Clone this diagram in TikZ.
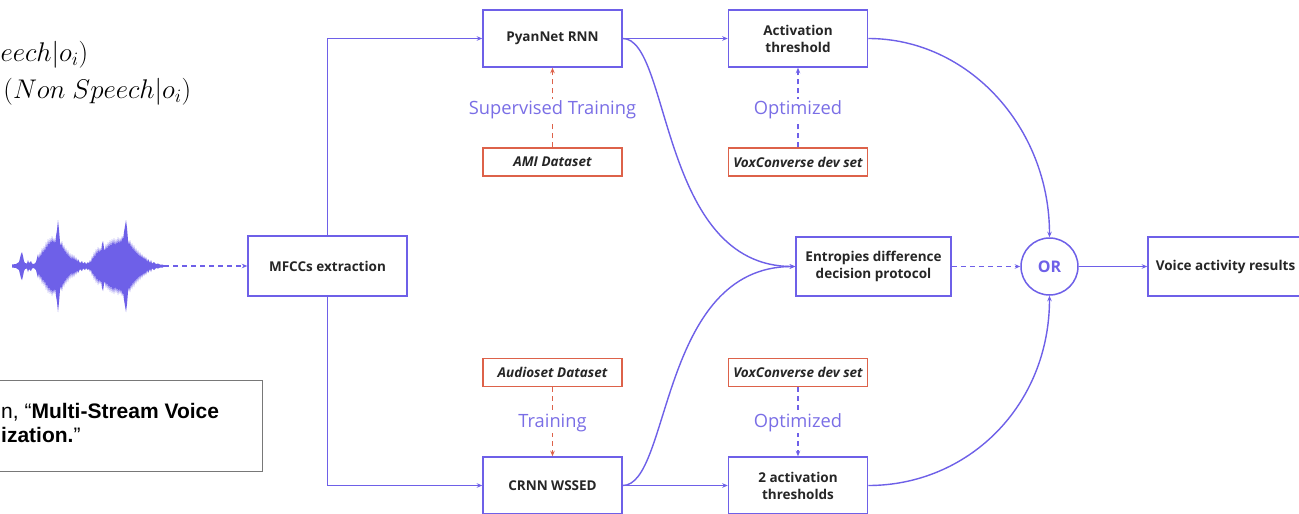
\RequirePackage{fix-cm}
\documentclass[tikz,border=0pt]{standalone}
\usepackage{fontspec}
\setmainfont{Open Sans}
\newfontfamily\citefont{Liberation Sans}
\usetikzlibrary{arrows.meta}
\definecolor{vio}{RGB}{110,96,232}
\definecolor{violabel}{RGB}{122,110,230}
\definecolor{brick}{RGB}{221,98,74}
\definecolor{citeframe}{RGB}{120,120,120}
% half of the speech waveform: (x, half amplitude) measured from the centre line
\newcommand{\wavehalfpath}{(12,0) -- plot coordinates {
 (12,1.5) (16,2) (19,4) (20,8) (21,12) (22,14) (23,10) (24,5) (25,3) (27,2.5) (28,6) (29,3)
 (31,5) (32,2.5) (34,2) (36,4) (37,8) (38,12) (39,7) (40,14) (41,9) (42,18) (43,12)
 (44,20) (45,14) (46,24) (47,17) (48,27) (49,20) (50,28) (51,22) (52,30) (53,23) (54,28)
 (55,22) (56,30) (57,36) (58,46) (59,36) (60,24) (61,20) (62,25) (63,16) (64,21) (65,13)
 (66,18) (67,10) (68,16) (69,8) (70,13) (71,6) (72,12) (73,6) (74,11) (75,5) (76,9)
 (77,4) (78,7) (80,3) (82,5) (83,2.5) (85,4) (86,2) (88,4) (89,2.5) (90,6) (91,3) (92,10)
 (93,6) (94,14) (95,8) (96,17) (97,11) (98,19) (99,13) (100,18) (101,14) (102,22)
 (103,25) (104,18) (105,15) (106,22) (107,16) (108,24) (109,18) (110,26) (111,19)
 (112,27) (113,21) (114,28) (115,20) (116,27) (117,21) (118,29) (119,22) (120,28)
 (121,23) (122,30) (123,26) (124,34) (125,40) (126,46) (127,38) (128,26) (129,21)
 (130,26) (131,18) (132,23) (133,15) (134,21) (135,13) (136,18) (137,11) (138,16)
 (139,9) (140,14) (141,8) (142,12) (143,7) (144,10) (145,6) (146,9) (147,4) (148,7)
 (150,3) (151,6) (152,2.5) (154,4) (156,2) (158,2.5) (160,1.5) (163,1.5)} -- (163,0) -- cycle}
\begin{document}
\begin{tikzpicture}[x=1pt,y=-1pt,
  stepbox/.style={draw=vio, line width=1.5pt, minimum width=139pt, minimum height=57pt,
    inner sep=2pt, align=center, text=black!85, font=\fontsize{13.5}{17}\selectfont\bfseries},
  databox/.style={draw=brick, line width=1.5pt, minimum width=139pt, minimum height=28pt,
    inner sep=1pt, text=black!85, font=\fontsize{13.5}{16}\selectfont\bfseries\itshape},
  link/.style={draw=vio, line width=1.4pt, -{Stealth[length=5.5pt,width=4.5pt]}},
  dashlink/.style={link, dash pattern=on 5pt off 4pt},
  trainlink/.style={draw=brick, line width=1.4pt, dash pattern=on 5pt off 4pt,
    -{Stealth[length=5.5pt,width=4.5pt]}},
  steplabel/.style={text=violabel, fill=white, inner sep=1pt, font=\fontsize{18.3}{21}\selectfont},
  eqtext/.style={anchor=base east, inner sep=0, font=\fontsize{27}{31}\selectfont},
  citetext/.style={anchor=base west, inner sep=0, font=\citefont\fontsize{21}{24}\selectfont},
]
\useasboundingbox (0,0) rectangle (1299,514);
\clip (0,0) rectangle (1299,514);
\fill[white] (0,0) rectangle (1299,514);

% probability expressions
\node[eqtext] (eqspeech) at (88.5,61) {$eech|o_i)$};
\node[eqtext] (eqnonspeech) at (191.5,98) {$(Non\ Speech|o_i)$};

% audio waveform
\draw[vio, line width=1.5pt] (12,266) -- (164,266);
\begin{scope}[shift={(0,266)}]
  \fill[vio] \wavehalfpath;
  \fill[vio, yscale=-1] \wavehalfpath;
\end{scope}
\coordinate (waveend) at (164,266);

% citation box
\node[draw=citeframe, line width=1pt, minimum width=300pt, minimum height=91pt, inner sep=0] (cite) at (112,425.5) {};
\node[citetext] (citeA) at (1,418) {n, “\textbf{Multi-Stream Voice}};
\node[citetext] (citeB) at (1,442) {\textbf{ization.}”};

% processing blocks
\node[stepbox, minimum width=159pt, minimum height=60pt] (mfcc) at (327.5,266) {MFCCs extraction};
\node[stepbox] (pyan) at (552.5,38.5) {PyanNet RNN};
\node[stepbox] (act) at (798,38.5) {Activation\\threshold};
\node[stepbox] (crnn) at (552.5,485.5) {CRNN WSSED};
\node[stepbox] (act2) at (798,485.5) {2 activation\\thresholds};
\node[stepbox, minimum width=155pt, minimum height=59pt] (ent) at (873.5,266.5) {Entropies difference\\decision protocol};
\node[stepbox, circle, minimum size=57pt, inner sep=0, text=vio, font=\fontsize{16}{18}\selectfont\bfseries] (or) at (1049.5,266.5) {OR};
\node[stepbox, minimum width=155pt, minimum height=59pt] (res) at (1225.5,266.5) {Voice activity results};

% data sources
\node[databox] (ami) at (552.5,162) {AMI Dataset};
\node[databox] (vox1) at (798,162) {VoxConverse dev set};
\node[databox] (audio) at (552.5,372.5) {Audioset Dataset};
\node[databox] (vox2) at (798,372.5) {VoxConverse dev set};

% connectors
\draw[dashlink] (waveend) -- (mfcc.west);
\draw[link] (mfcc.north) |- (pyan.west);
\draw[link] (mfcc.south) |- (crnn.west);
\draw[link] (pyan.east) -- (act.west);
\draw[link] (crnn.east) -- (act2.west);
\draw[link] (pyan.east) .. controls +(48,0) and +(-136,0) .. (ent.west);
\draw[link] (crnn.east) .. controls +(48,0) and +(-136,0) .. (ent.west);
\draw[link] (act.east) .. controls +(100,0) and +(0,-110) .. (or.north);
\draw[link] (act2.east) .. controls +(100,0) and +(0,110) .. (or.south);
\draw[dashlink] (ent.east) -- (or.west);
\draw[link] (or.east) -- (res.west);

\draw[trainlink] (ami.north) -- (pyan.south) node[steplabel, midway, yshift=-2pt] (lblsup) {Supervised Training};
\draw[dashlink] (vox1.north) -- (act.south) node[steplabel, midway, yshift=-2pt] (lblopt1) {Optimized};
\draw[trainlink] (audio.south) -- (crnn.north) node[steplabel, midway, yshift=-1pt] (lbltrain) {Training};
\draw[dashlink] (vox2.south) -- (act2.north) node[steplabel, midway, yshift=-1pt] (lblopt2) {Optimized};
\end{tikzpicture}
\end{document}
